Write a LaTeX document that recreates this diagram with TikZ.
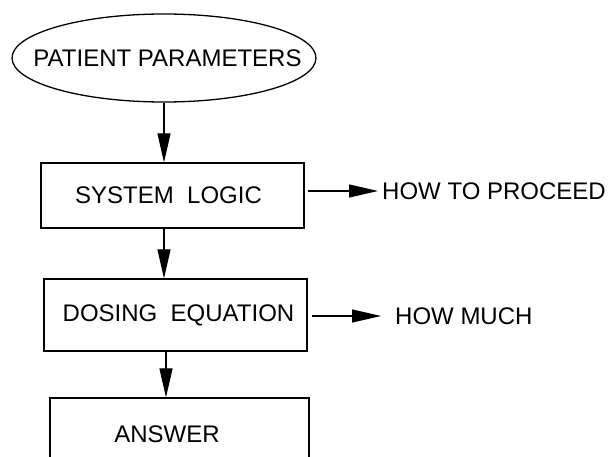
\documentclass[tikz,border=0pt]{standalone}
\usepackage{fontspec}
\setmainfont{Liberation Sans}
\usepackage{tikz}
\usetikzlibrary{arrows.meta,shapes,calc,positioning}
\tikzstyle{flow}  =[-{Triangle[length=29pt,width=13pt]},
                    line width=1.2pt]
\tikzstyle{stage} =[rectangle, draw, line width=1.3pt,
                    minimum width=263pt, inner sep=0pt]
\tikzstyle{oval}  =[ellipse, draw, line width=1.3pt,
                    minimum width=304pt, minimum height=88pt,
                    inner xsep=-40pt, inner ysep=0pt]
\tikzstyle{note}  =[inner sep=0pt, anchor=west]

\begin{document}
\begin{tikzpicture}[x=1pt,y=1pt,font=\fontsize{24}{28}\selectfont]
    \clip (0,0) rectangle (611,-457);

    \draw (164,-58) node (params) [oval] {\hspace*{7pt}PATIENT PARAMETERS};
    \draw (172.5,-195.5) node (logic) [stage,minimum height=65pt] {\hspace*{-8pt}SYSTEM\ \ LOGIC};
    \draw (175.5,-315) node (dosing) [stage,minimum height=72pt] {\hspace*{6pt}DOSING\ \ EQUATION};
    \draw (179.5,-434) node (answer) [stage,minimum width=259pt,minimum height=72pt] {\hspace*{-25pt}ANSWER};

    \draw (382,-191) node (proceed) [note] {HOW TO PROCEED};
    \draw (395,-316) node (howmuch) [note] {HOW MUCH};

    % flow down the stages
    \draw [flow] (params.south) -- (params.south |- logic.north);
    \draw [flow] (params.south |- logic.south) -- (params.south |- dosing.north);
    \draw [flow] ([xshift=2pt]params.south |- dosing.south) -- ([xshift=2pt]params.south |- answer.north);

    % outputs
    \foreach \i/\j/\a/\b in {logic/proceed/3/4, dosing/howmuch/4/14}
        \draw [flow,shorten <=\a pt,shorten >=\b pt] (\i.east |- \j) -- (\j.west);

\end{tikzpicture}
\end{document}
